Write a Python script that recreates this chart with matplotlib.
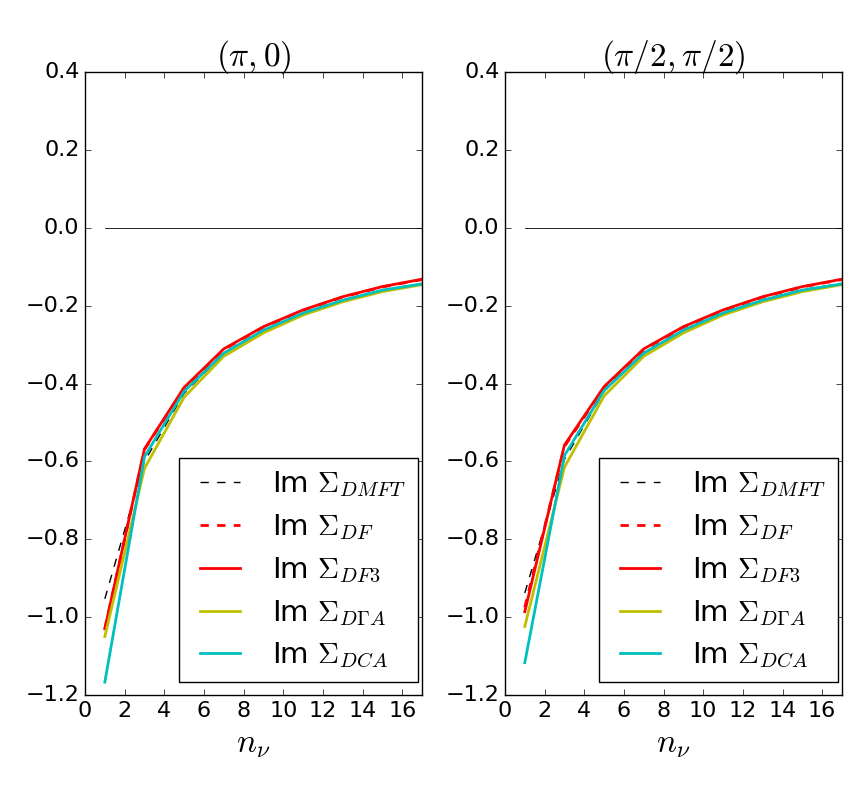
import matplotlib
matplotlib.use("Agg")
import matplotlib.pyplot as plt

plt.style.use("classic")
plt.rcParams["figure.facecolor"] = "white"
plt.rcParams["savefig.facecolor"] = "white"
plt.rcParams["mathtext.fontset"] = "cm"

# odd Matsubara indices
n_nu = [1, 3, 5, 7, 9, 11, 13, 15, 17]

# (pi, 0)
dmft_a = [-0.953, -0.600, -0.425, -0.322, -0.263, -0.219, -0.186, -0.160, -0.144]
df_a = [-1.030, -0.570, -0.412, -0.313, -0.255, -0.212, -0.178, -0.152, -0.133]
df3_a = [-1.030, -0.568, -0.410, -0.311, -0.254, -0.211, -0.177, -0.151, -0.132]
dga_a = [-1.050, -0.618, -0.435, -0.330, -0.270, -0.224, -0.190, -0.164, -0.146]
dca_a = [-1.167, -0.588, -0.420, -0.322, -0.263, -0.219, -0.186, -0.160, -0.144]

# (pi/2, pi/2)
dmft_b = [-0.938, -0.595, -0.420, -0.320, -0.262, -0.218, -0.185, -0.159, -0.143]
df_b = [-0.975, -0.562, -0.410, -0.313, -0.255, -0.212, -0.178, -0.152, -0.133]
df3_b = [-0.986, -0.558, -0.408, -0.311, -0.254, -0.211, -0.177, -0.151, -0.132]
dga_b = [-1.024, -0.615, -0.432, -0.330, -0.270, -0.224, -0.190, -0.164, -0.146]
dca_b = [-1.117, -0.585, -0.418, -0.322, -0.263, -0.219, -0.186, -0.160, -0.144]

titles = [r"$(\pi,0)$", r"$(\pi/2,\pi/2)$"]
panels = [(dmft_a, df_a, df3_a, dga_a, dca_a), (dmft_b, df_b, df3_b, dga_b, dca_b)]

fig = plt.figure(figsize=(8.62, 8.10), dpi=100)
lefts = [0.0986, 0.5858]
for i in range(2):
    ax = fig.add_axes([lefts[i], 0.142, 0.391, 0.769])
    dmft, df, df3, dga, dca = panels[i]
    ax.plot(n_nu, [0] * len(n_nu), "k-", lw=0.6)
    ax.plot(n_nu, dmft, "k--", lw=1.0, label=r"Im $\Sigma_{DMFT}$")
    ax.plot(n_nu, df, "r--", lw=2.0, label=r"Im $\Sigma_{DF}$")
    ax.plot(n_nu, df3, "r-", lw=2.0, label=r"Im $\Sigma_{DF3}$")
    ax.plot(n_nu, dga, "y-", lw=2.0, label=r"Im $\Sigma_{D\Gamma A}$")
    ax.plot(n_nu, dca, "c-", lw=2.0, label=r"Im $\Sigma_{DCA}$")
    ax.set_xlim(0, 17)
    ax.set_ylim(-1.2, 0.4)
    ax.set_xticks(range(0, 17, 2))
    ax.tick_params(labelsize=16)
    ax.set_title(titles[i], fontsize=24)
    ax.set_xlabel(r"$n_\nu$", fontsize=24)
    ax.legend(loc="lower right", fontsize=21, borderaxespad=0,
              bbox_to_anchor=(0.988, 0.021), labelspacing=0.45)

fig.savefig("out.png", dpi=100)
